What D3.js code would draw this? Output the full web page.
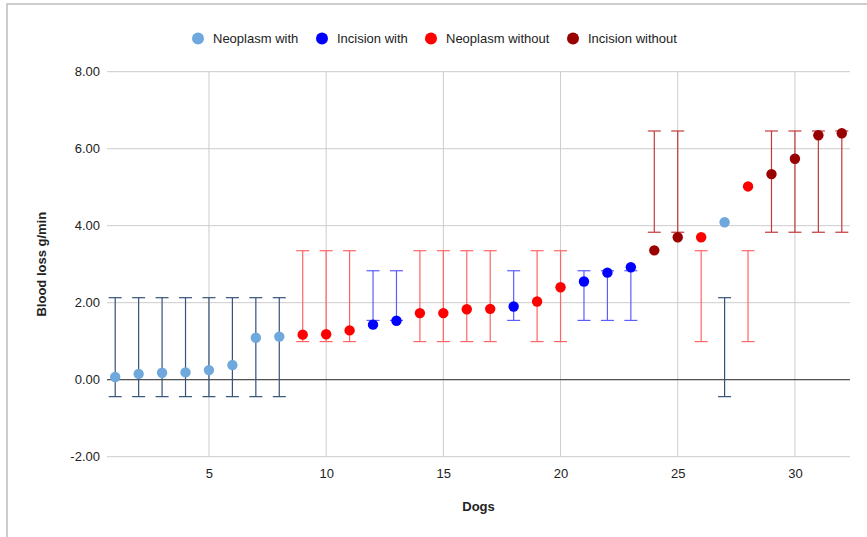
<!DOCTYPE html>
<html>
<head>
<meta charset="utf-8">
<script src="https://cdn.jsdelivr.net/npm/d3@7"></script>
<style>
  html, body { margin: 0; padding: 0; background: #fff; }
  svg { display: block; font-family: Arial, "Liberation Sans", sans-serif; }
</style>
</head>
<body>
<svg id="chart" width="867" height="537"></svg>
<script>
// Dogs on the x axis, measured blood loss (g/min) per dog
const dogs = [1, 2, 3, 4, 5, 6, 7, 8, 9, 10, 11, 12, 13, 14, 15, 16,
              17, 18, 19, 20, 21, 22, 23, 24, 25, 26, 27, 28, 29, 30, 31, 32];
const bloodLoss = [0.07, 0.15, 0.18, 0.19, 0.25, 0.38, 1.09, 1.12,
                   1.17, 1.18, 1.28, 1.43, 1.53, 1.73, 1.73, 1.83,
                   1.84, 1.90, 2.03, 2.40, 2.55, 2.78, 2.92, 3.36,
                   3.70, 3.70, 4.09, 5.02, 5.34, 5.74, 6.35, 6.40];
// group index of each dog (into groupNames)
const dogGroup = [0, 0, 0, 0, 0, 0, 0, 0,
                  2, 2, 2, 1, 1, 2, 2, 2,
                  2, 1, 2, 2, 1, 1, 1, 3,
                  3, 2, 0, 2, 3, 3, 3, 3];

// Groups with their interval (low / high)
const groupNames = ["Neoplasm with", "Incision with", "Neoplasm without", "Incision without"];
const groupLow = [-0.44, 1.54, 0.99, 3.83];
const groupHigh = [2.13, 2.83, 3.35, 6.46];

// Axis ticks
const yTicks = [-2, 0, 2, 4, 6, 8];
const xTicks = [5, 10, 15, 20, 25, 30];

const pointColors = ["#6fa8dc", "#0000ff", "#ff0000", "#990000"];
const barColors = ["#34527a", "#5c5cff", "#ff6464", "#c03a3a"];

const svg = d3.select("#chart");

// outer frame
svg.append("rect")
  .attr("x", 7).attr("y", 4).attr("width", 900).attr("height", 600)
  .attr("fill", "none").attr("stroke", "#bdbdbd").attr("stroke-width", 1.5);

const plotLeft = 107, plotRight = 850, plotTop = 71.7, plotBottom = 456.7;

const x = d3.scaleLinear().domain([0.65, 32.35]).range([plotLeft, plotRight]);
const y = d3.scaleLinear().domain([-2, 8]).range([plotBottom, plotTop]);

// gridlines
const grid = svg.append("g");
grid.selectAll("line.h").data(yTicks).join("line")
  .attr("class", "h")
  .attr("x1", plotLeft).attr("x2", plotRight)
  .attr("y1", d => y(d)).attr("y2", d => y(d))
  .attr("stroke", "#cccccc").attr("stroke-width", 1);
grid.selectAll("line.v").data(xTicks).join("line")
  .attr("class", "v")
  .attr("x1", d => x(d)).attr("x2", d => x(d))
  .attr("y1", plotTop).attr("y2", plotBottom)
  .attr("stroke", "#cccccc").attr("stroke-width", 1);

// zero baseline
svg.append("line")
  .attr("x1", plotLeft).attr("x2", plotRight)
  .attr("y1", y(0)).attr("y2", y(0))
  .attr("stroke", "#333333").attr("stroke-width", 1);

// y axis labels (plain hyphen for negatives)
const fmt2 = v => v.toFixed(2);
const yAxis = d3.axisLeft(y).tickValues(yTicks).tickFormat(fmt2).tickSize(0).tickPadding(0);
const yG = svg.append("g").attr("transform", `translate(${plotLeft - 7},0)`).call(yAxis);
yG.select(".domain").remove();
yG.selectAll("text").attr("font-size", 13).attr("fill", "#222").attr("font-family", "Arial, 'Liberation Sans', sans-serif");

// x axis labels
const xAxis = d3.axisBottom(x).tickValues(xTicks).tickFormat(d3.format("d")).tickSize(0).tickPadding(0);
const xG = svg.append("g").attr("transform", `translate(0,${plotBottom + 12})`).call(xAxis);
xG.select(".domain").remove();
xG.selectAll("text").attr("font-size", 13).attr("fill", "#222").attr("font-family", "Arial, 'Liberation Sans', sans-serif");

// axis titles
svg.append("text")
  .attr("x", (plotLeft + plotRight) / 2).attr("y", 511)
  .attr("text-anchor", "middle").attr("font-size", 13).attr("font-weight", "bold")
  .attr("fill", "#222").text("Dogs");
svg.append("text")
  .attr("transform", `translate(46,${(plotTop + plotBottom) / 2}) rotate(-90)`)
  .attr("text-anchor", "middle").attr("font-size", 13).attr("font-weight", "bold")
  .attr("fill", "#222").text("Blood loss g/min");

// interval bars
const rows = dogs.map((d, i) => ({
  dog: d, value: bloodLoss[i], g: dogGroup[i],
  lo: groupLow[dogGroup[i]], hi: groupHigh[dogGroup[i]]
}));
const capHalf = 6.5;
const bars = svg.append("g").selectAll("g").data(rows).join("g")
  .attr("stroke", d => barColors[d.g]).attr("stroke-width", 1.2);
bars.append("line")
  .attr("x1", d => x(d.dog)).attr("x2", d => x(d.dog))
  .attr("y1", d => y(d.lo)).attr("y2", d => y(d.hi));
bars.append("line")
  .attr("x1", d => x(d.dog) - capHalf).attr("x2", d => x(d.dog) + capHalf)
  .attr("y1", d => y(d.hi)).attr("y2", d => y(d.hi));
bars.append("line")
  .attr("x1", d => x(d.dog) - capHalf).attr("x2", d => x(d.dog) + capHalf)
  .attr("y1", d => y(d.lo)).attr("y2", d => y(d.lo));

// points
svg.append("g").selectAll("circle").data(rows).join("circle")
  .attr("cx", d => x(d.dog)).attr("cy", d => y(d.value))
  .attr("r", 5.2).attr("fill", d => pointColors[d.g]);

// legend
const legendX = [198, 322, 431, 573];
const legend = svg.append("g").selectAll("g").data(groupNames).join("g")
  .attr("transform", (d, i) => `translate(${legendX[i]},38.5)`);
legend.append("circle").attr("r", 6).attr("fill", (d, i) => pointColors[i]);
legend.append("text").attr("x", 15).attr("y", 4.5)
  .attr("font-size", 13).attr("fill", "#222").text(d => d);
</script>
</body>
</html>
